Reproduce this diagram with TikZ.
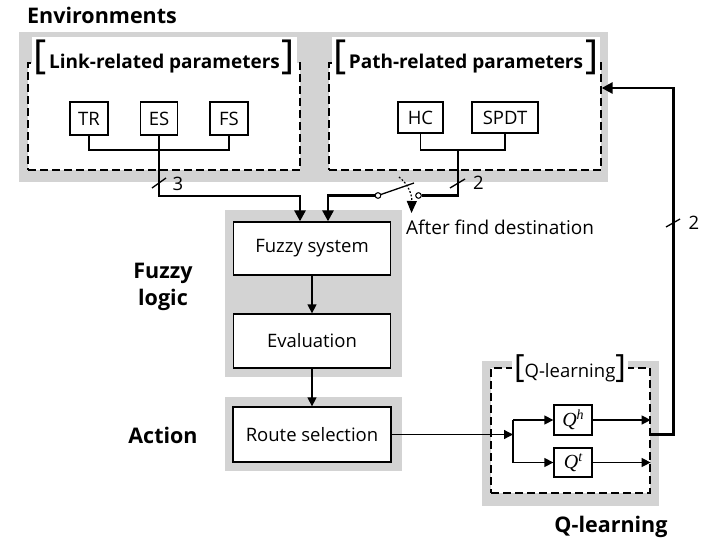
\documentclass[tikz,border=0pt]{standalone}
\usepackage{fontspec}
\setmainfont{Open Sans}
\newfontfamily\qfont{Liberation Serif}
\usetikzlibrary{arrows.meta,calc}
\definecolor{zonegray}{RGB}{211,211,211}
\newcommand\bigbr[2]{{\fontsize{#1}{#1}\selectfont\mdseries #2}}
\newcommand\rtxt{\fontsize{18.5}{22}\selectfont}
\newcommand\btxt{\fontsize{21.5}{27}\selectfont\bfseries}
\newcommand\qsym[1]{{\qfont\itshape\fontsize{20}{22}\selectfont Q\raisebox{7pt}{\fontsize{14}{14}\selectfont #1}}}
\tikzset{
  zone/.style={fill=zonegray,draw=none},
  dbox/.style={draw,fill=white,line width=1.3pt,dash pattern=on 8pt off 4pt,inner sep=0pt},
  blk/.style={draw,fill=white,line width=1.3pt,inner sep=0pt,font=\rtxt},
  thn/.style={line width=1.3pt},
  thk/.style={line width=2.8pt},
  tip/.style={-{Triangle[length=9pt,width=9pt]}},
  bigtip/.style={-{Triangle[length=11pt,width=11pt]}},
  contact/.style={circle,draw,fill=white,inner sep=0pt,minimum size=5.5pt,line width=0.9pt},
  ttl/.style={fill=white,inner sep=2pt,anchor=base},
  lbl/.style={font=\btxt,inner sep=0pt}
}
\begin{document}
\begin{tikzpicture}[x=1pt,y=-1pt]
\useasboundingbox (0,0) rectangle (726,557);
% gray zones
\fill[zone] (19,32) rectangle (608,182);
\fill[zone] (225,210) rectangle (402,377);
\fill[zone] (225,397) rectangle (402,471);
\fill[zone] (482,361) rectangle (659,506);
% dashed boxes
\node[dbox,minimum width=272pt,minimum height=107pt] (lbox) at (164,116.5) {};
\node[dbox,minimum width=272pt,minimum height=107pt] (pbox) at (465,116.5) {};
\node[dbox,minimum width=159pt,minimum height=125pt] (qd) at (570.5,430.5) {};
% titles
\node[ttl,font=\fontsize{19}{22}\selectfont\bfseries] (lt) at (164.5,68) {\bigbr{40}{[}\hspace{2pt}Link-related parameters\hspace{2pt}\bigbr{40}{]}};
\node[ttl,font=\fontsize{19}{22}\selectfont\bfseries] (pt) at (466,68) {\bigbr{40}{[}\hspace{2pt}Path-related parameters\hspace{2pt}\bigbr{40}{]}};
\node[ttl,font=\rtxt] (qt) at (570,377) {\bigbr{32}{[}Q-learning\bigbr{32}{]}};
% parameter boxes
\node[blk,minimum width=38pt,minimum height=33pt] (TR) at (89,118.5) {TR};
\node[blk,minimum width=37pt,minimum height=33pt] (ES) at (159,118.5) {ES};
\node[blk,minimum width=38pt,minimum height=33pt] (FS) at (229,118.5) {FS};
\node[blk,minimum width=45pt,minimum height=31pt] (HC) at (420.5,117.5) {HC};
\node[blk,minimum width=66pt,minimum height=31pt] (SPDT) at (505,117.5) {SPDT};
% process boxes
\node[blk,minimum width=157pt,minimum height=53pt] (fz) at (312,248.5) {Fuzzy system};
\node[blk,minimum width=157pt,minimum height=54pt] (ev) at (312,341) {Evaluation};
\node[blk,minimum width=158pt,minimum height=55pt] (rs) at (312,434.5) {Route selection};
\node[blk,minimum width=38pt,minimum height=30pt] (Qh) at (573,420) {\qsym{h}};
\node[blk,minimum width=38pt,minimum height=29pt] (Qt) at (573,462.5) {\qsym{t}};
% link bus
\coordinate (lbus) at (159,150);
\draw[thn] (TR.south) |- (lbus) -| (FS.south);
\draw[thn] (ES.south) -- (lbus);
\draw[thk,bigtip] (lbus) -- ++(0,46) -| ([xshift=-12pt]fz.north);
% path bus
\coordinate (pbus) at (458,150);
\draw[thn] (HC.south) |- (pbus) -| (SPDT.south);
\node[contact] (c1) at (378,195.5) {};
\node[contact] (c2) at (418.5,195.5) {};
\coordinate (blade) at (414,183);
\draw[thk] (pbus) -- ++(0,45.5) -- (c2);
\draw[thk,bigtip] (c1) -| ([xshift=16pt]fz.north);
\draw[thn] (c1) -- (blade);
\coordinate (d1) at (399,177);
\coordinate (d2) at (411.5,213);
\draw[line width=1.2pt,dash pattern=on 1.8pt off 1.8pt,-{Triangle[length=12pt,width=10pt]}] (d1) .. controls (408,184) and (412,194) .. (d2);
\node[contact] at (c1) {};
\node[contact] at (c2) {};
% fuzzy chain
\draw[thn,tip] (fz) -- (ev);
\draw[thn,tip] (ev) -- (rs);
% Q-learning
\coordinate (br) at (513,434.5);
\draw[thn,tip] (rs.east) -- (br);
\draw[thn] (br |- Qh) -- (br |- Qt);
\draw[thn,tip] (br |- Qh) -- (Qh);
\draw[thn,tip] (br |- Qt) -- (Qt);
\draw[thn,tip] (Qh) -- (qd.east |- Qh);
\draw[thn,tip] (Qt) -- (qd.east |- Qt);
\coordinate (qo) at (qd.east |- rs.east);
\draw[thk,bigtip] (qo) -- ++(23,0) |- ([yshift=28.5pt]pbox.east);
% bus width marks
\coordinate (m1a) at (152,188); \coordinate (m1b) at (166,178);
\draw[thn] (m1a) -- (m1b);
\node[font=\rtxt,inner sep=0pt] (n3) at (178,184) {3};
\coordinate (m2a) at (450,188); \coordinate (m2b) at (465,179);
\draw[thn] (m2a) -- (m2b);
\node[font=\rtxt,inner sep=0pt] (n2a) at (478.5,183) {2};
\coordinate (m3a) at (666,227); \coordinate (m3b) at (680,219);
\draw[thn] (m3a) -- (m3b);
\node[font=\rtxt,inner sep=0pt] (n2b) at (694,223) {2};
% texts
\node[font=\fontsize{19}{22}\selectfont,anchor=base west,inner sep=0pt] (afd) at (406,234) {After find destination};
\node[lbl,anchor=base west] (env) at (27,23) {Environments};
\node[lbl,align=center] (fl) at (163,287) {Fuzzy\\logic};
\node[lbl,anchor=base] (act) at (163,443) {Action};
\node[lbl,anchor=base] (ql) at (611,532) {Q-learning};
\end{tikzpicture}
\end{document}
